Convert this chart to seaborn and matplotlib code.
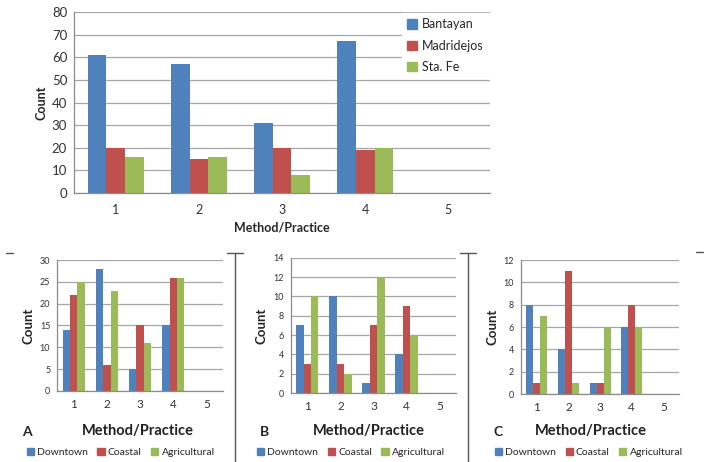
import numpy as np
import pandas as pd
import matplotlib
matplotlib.use("Agg")
import matplotlib.pyplot as plt
from matplotlib.lines import Line2D
from matplotlib.patches import Patch
import seaborn as sns

# data
methods = ["1", "2", "3", "4", "5"]

towns = ["Bantayan", "Madridejos", "Sta. Fe"]
bantayan = [61, 57, 31, 67, 0]
madridejos = [20, 15, 20, 19, 0]
sta_fe = [16, 16, 8, 20, 0]

zones = ["Downtown", "Coastal", "Agricultural"]
a_downtown = [14, 28, 5, 15, 0]
a_coastal = [22, 6, 15, 26, 0]
a_agri = [25, 23, 11, 26, 0]

b_downtown = [7, 10, 1, 4, 0]
b_coastal = [3, 3, 7, 9, 0]
b_agri = [10, 2, 12, 6, 0]

c_downtown = [8, 4, 1, 6, 0]
c_coastal = [1, 11, 1, 8, 0]
c_agri = [7, 1, 6, 6, 0]

colors = ["#4F81BD", "#C0504D", "#9BBB59"]
grid_col = "#a6a6a6"

sns.set_theme(style="white")
plt.rcParams['font.family'] = ['Lato', 'DejaVu Sans']


def long_frame(series, names):
    return pd.DataFrame({
        "method": methods * len(names),
        "group": np.repeat(names, len(methods)),
        "count": sum([list(s) for s in series], []),
    })


def draw(ax, series, names, ymax, ystep, ytick_fs, xtick_fs):
    df = long_frame(series, names)
    sns.barplot(data=df, x="method", y="count", hue="group", order=methods,
                hue_order=names, palette=colors, width=0.67, saturation=1,
                ax=ax, legend=False, linewidth=0)
    ax.set_xlim(-0.5, 4.5)
    ax.set_ylim(0, ymax)
    ax.set_yticks(np.arange(0, ymax + 1, ystep))
    ax.set_axisbelow(True)
    ax.yaxis.grid(True, color=grid_col, lw=0.9)
    for s in ["top", "right"]:
        ax.spines[s].set_visible(False)
    for s in ["left", "bottom"]:
        ax.spines[s].set_color("#8c8c8c")
        ax.spines[s].set_linewidth(0.9)
    ax.set_xticks(np.arange(-0.5, 5, 1), minor=True)
    ax.tick_params(axis="x", which="major", length=0, labelsize=xtick_fs, colors="#333333")
    ax.tick_params(axis="x", which="minor", length=4, color="#8c8c8c", direction="out")
    ax.tick_params(axis="y", length=3, color="#8c8c8c", direction="out", labelsize=ytick_fs,
                   colors="#333333", pad=2)
    ax.set_xlabel("")
    ax.set_ylabel("")


fig = plt.figure(figsize=(7.06, 4.62), dpi=100)

# top chart
ax0 = fig.add_axes([0.105, 0.582, 0.589, 0.392])
draw(ax0, [bantayan, madridejos, sta_fe], towns, 80, 10, 9.5, 9)
ax0.tick_params(axis="x", which="major", pad=8)
ax0.set_xlabel("Method/Practice", fontsize=9, fontweight="bold", labelpad=4)
ax0.set_ylabel("Count", fontsize=9, fontweight="bold", labelpad=3)
handles = [Patch(color=c) for c in colors]
ax0.legend(handles, towns, loc="upper right", fontsize=9, frameon=True, facecolor="white",
           edgecolor="white", framealpha=1, handlelength=0.8, handleheight=0.8,
           labelspacing=0.75, handletextpad=0.4, borderaxespad=0.1, fancybox=False)

# bottom panels
panels = [
    ([0.081, 0.154, 0.235, 0.283], [a_downtown, a_coastal, a_agri], 30, 5, "A", 0.038, 0.195, 0.171),
    ([0.412, 0.149, 0.234, 0.293], [b_downtown, b_coastal, b_agri], 14, 2, "B", 0.375, 0.523, 0.497),
    ([0.738, 0.147, 0.224, 0.290], [c_downtown, c_coastal, c_agri], 12, 2, "C", 0.705, 0.837, 0.834),
]
for rect, series, ymax, ystep, letter, lx, xlx, legx in panels:
    ax = fig.add_axes(rect)
    draw(ax, series, zones, ymax, ystep, 6.5, 8.5)
    ax.tick_params(axis="x", which="major", pad=6)
    ax.set_ylabel("Count", fontsize=9.5, fontweight="bold", labelpad=4)
    fig.text(lx, 0.065, letter, fontsize=10, fontweight="bold", ha="center", va="center")
    fig.text(xlx, 0.067, "Method/Practice", fontsize=10.5, fontweight="bold",
             ha="center", va="center", color="#222222")
    fig.legend([Patch(color=c) for c in colors], zones, loc="center", ncol=3,
               bbox_to_anchor=(legx, 0.02), fontsize=7.5, frameon=False,
               handlelength=0.7, handleheight=0.7, handletextpad=0.3, columnspacing=0.9)

# separator brackets between the bottom panels
sep_col = "#555555"
for xs in [235, 468]:
    x = xs / 706
    fig.add_artist(Line2D([x, x], [1 - 253 / 462, 0], color=sep_col, lw=1.0))
    fig.add_artist(Line2D([x - 8 / 706, x + 8 / 706], [1 - 253 / 462] * 2, color=sep_col, lw=1.0))
fig.add_artist(Line2D([6 / 706, 13 / 706], [1 - 253 / 462] * 2, color=sep_col, lw=1.0))
fig.add_artist(Line2D([696 / 706, 703 / 706], [1 - 252 / 462] * 2, color=sep_col, lw=1.0))

fig.savefig("out.png", dpi=100)
